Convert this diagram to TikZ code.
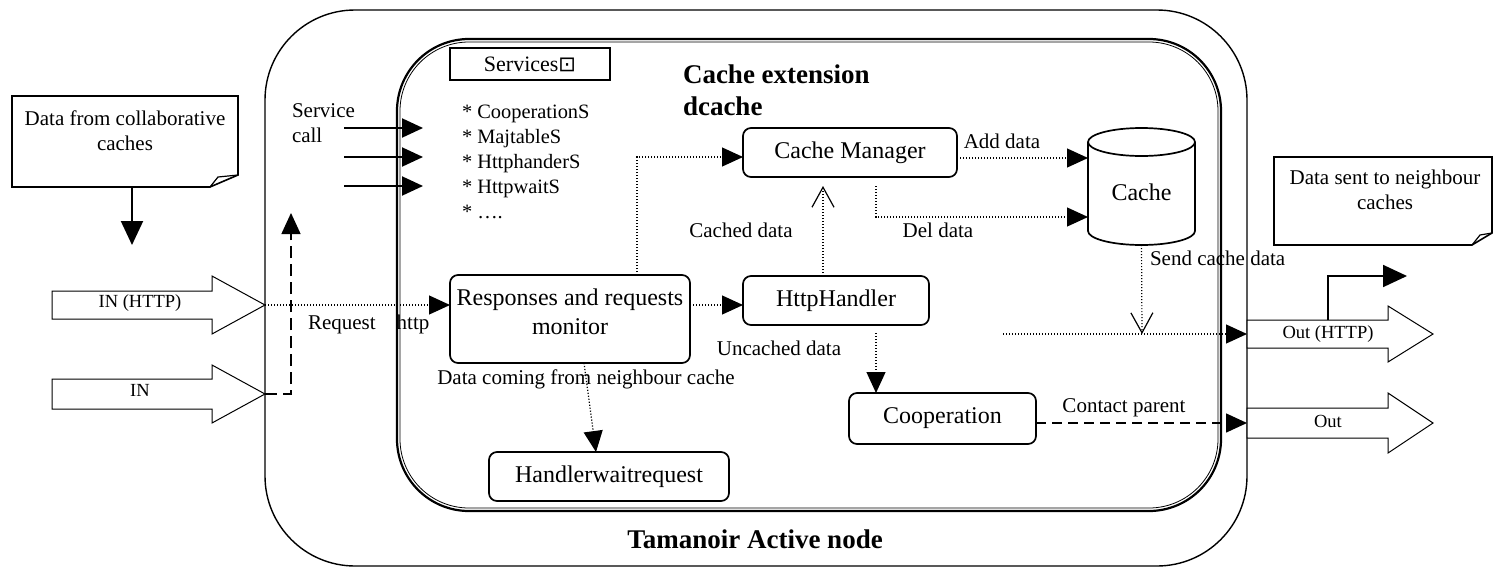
\documentclass[tikz,border=0pt]{standalone}
\usepackage{fontspec}
\setmainfont{Liberation Serif}
\newfontfamily\symfont{DejaVu Sans}
\usetikzlibrary{arrows.meta}

\begin{document}
\begin{tikzpicture}[x=0.5pt,y=-0.5pt,
  every node/.style={inner sep=0pt, outer sep=0pt},
  box/.style={draw, line width=0.85pt, rounded corners=4pt, align=center,
    font=\fontsize{12}{14.5}\selectfont},
  lbl/.style={font=\fontsize{10.5}{12.5}\selectfont},
  small/.style={font=\fontsize{9.25}{11}\selectfont},
  heading/.style={font=\fontsize{13.5}{15}\selectfont\bfseries},
  dots/.style={line width=0.6pt, dash pattern=on 0.6pt off 0.9pt},
  dashline/.style={line width=0.8pt, dash pattern=on 5pt off 3pt},
  longdash/.style={line width=0.7pt, dash pattern=on 6pt off 3pt},
  filltip/.style={-{Triangle[length=10.5pt,width=9.5pt]}},
  bigtip/.style={-{Triangle[length=12pt,width=11pt]}},
  opentip/.style={-{Straight Barb[length=10pt,width=11pt,line width=0.6pt]}},
  blockarrow/.style={draw, line width=0.5pt, fill=white},
  notebox/.style={draw, line width=0.8pt, fill=white},
  cyl/.style={draw, line width=0.85pt}]

\useasboundingbox (0,0) rectangle (1494,568);

% node frame and cache extension frame (heavy outer line, thin inner line)
\draw[line width=0.7pt, rounded corners=45pt] (265,10) rectangle (1247,566);
\draw[line width=1.1pt, rounded corners=36pt] (397,39) rectangle (1221,511);
\draw[line width=0.4pt, rounded corners=34.5pt] (400,42) rectangle (1218,508);
\node[heading, anchor=base] (title) at (755,548) {Tamanoir Active node};
\node[heading, anchor=base west] (ext1) at (683,83) {Cache extension};
\node[heading, anchor=base west] (ext2) at (683,115) {dcache};

% services list
\node[draw, line width=0.6pt, minimum width=80pt, minimum height=16pt,
  font=\fontsize{11}{12}\selectfont] (serv) at (530,64)
  {Services{\symfont\fontsize{10.5}{10}\selectfont ⊡}};
\foreach \t [count=\i] in {* CooperationS, * MajtableS, * HttphanderS, * HttpwaitS, * ….}
  \node[font=\fontsize{10.2}{12}\selectfont, anchor=base west] (svc\i) at (462,93.5+25*\i) {\t};

% service calls
\node[lbl, anchor=base west] (scall1) at (292,117) {Service};
\node[lbl, anchor=base west] (scall2) at (292,142) {call};
\foreach \y [count=\i] in {128,157,186} {
  \coordinate (sca\i) at (344,\y);
  \coordinate (scb\i) at (423,\y);
  \draw[line width=1pt, filltip] (sca\i) -- (scb\i);
}

% components
\node[box, minimum width=107pt, minimum height=24.5pt] (cm) at (850,152.5) {Cache Manager};
\node[box, minimum width=93pt, minimum height=24.5pt] (hh) at (836,300.5) {HttpHandler};
\node[box, minimum width=120pt, minimum height=44pt] (resp) at (570,319) {};
\node[font=\fontsize{12}{14.5}\selectfont, align=center] (resptext) at (570,312)
  {Responses and requests\\monitor};
\node[box, minimum width=120pt, minimum height=24.5pt] (hw) at (609,476.5) {Handlerwaitrequest};
\node[box, minimum width=93.5pt, minimum height=25.5pt] (coop) at (942.5,418.5) {Cooperation};

% cache store (cylinder)
\node[font=\fontsize{12}{14.5}\selectfont, minimum width=53.5pt, minimum height=53pt]
  (cache) at (1141.5,192) {Cache};
\draw[cyl] (1141.5,142) ellipse [x radius=26.75pt, y radius=7pt];
\draw[cyl] (1088,142) -- (1088,231)
  arc[start angle=180, end angle=360, x radius=26.75pt, y radius=7pt] -- (1195,142);

% notes with folded corner
\draw[notebox] (12,96) -- (238,96) -- (238,175) -- (210,187) -- (12,187) -- cycle;
\draw[line width=0.6pt] (210,187) -- (218,177) -- (238,175);
\node[lbl, align=center] (note1) at (125,130.5) {Data from collaborative\\caches};
\coordinate (note1b) at (132,187);
\coordinate (note1t) at (132,245);
\draw[line width=1pt, bigtip] (note1b) -- (note1t);

\draw[notebox] (1274,157) -- (1492,157) -- (1492,233) -- (1472,245) -- (1274,245) -- cycle;
\draw[line width=0.6pt] (1472,245) -- (1480,235) -- (1492,233);
\node[lbl, align=center] (note2) at (1385,190) {Data sent to neighbour\\caches};

% input block arrows
\draw[blockarrow] (52,291) -- (212,291) -- (212,276) -- (265,305) -- (212,334)
  -- (212,319) -- (52,319) -- cycle;
\node[small, anchor=base] (inhttptext) at (140,307) {IN (HTTP)};
\coordinate (inhttp) at (265,305);
\draw[blockarrow] (52,379) -- (212,379) -- (212,365) -- (265,394) -- (212,423)
  -- (212,409) -- (52,409) -- cycle;
\node[small, anchor=base] (intext) at (140,396) {IN};
\coordinate (inplain) at (265,394);

% output block arrows
\draw[blockarrow] (1247,320) -- (1388,320) -- (1388,306) -- (1433,334) -- (1388,362)
  -- (1388,348) -- (1247,348) -- cycle;
\node[small, anchor=base] (outhttptext) at (1328,338) {Out (HTTP)};
\coordinate (outhttp) at (1247,334);
\draw[blockarrow] (1247,408) -- (1388,408) -- (1388,393) -- (1433,423) -- (1388,453)
  -- (1388,438) -- (1247,438) -- cycle;
\node[small, anchor=base] (outtext) at (1328,427) {Out};
\coordinate (outplain) at (1247,423);

% elbow arrow out of the HTTP output
\coordinate (elbs) at (1328,320);
\coordinate (elbt) at (1407,276);
\draw[line width=0.9pt, bigtip] (elbs) |- (elbt);

% request flow
\draw[dots, filltip] (inhttp) -- (resp.west |- inhttp);
\node[lbl, anchor=base west] (reqlbl) at (308,329) {Request\quad http};
\coordinate (upbend) at (291,394);
\coordinate (uptip) at (291,213);
\draw[longdash, filltip] (inplain) -- (upbend) -- (uptip);

\coordinate (mbend) at (637,157);
\draw[dots, filltip] (mbend |- resp.north) -- (mbend) -- (cm.west |- mbend);
\draw[dots, filltip] (resp.east |- inhttp) -- (hh.west |- inhttp);

\coordinate (cachedtip) at (823,186);
\draw[dots, opentip] (cachedtip |- hh.north) -- (cachedtip);
\node[lbl, anchor=base] (cachedlbl) at (741,237) {Cached data};

\coordinate (addy) at (960,158);
\draw[dots, filltip] (cm.east |- addy) -- (cache.west |- addy);
\node[lbl, anchor=base] (addlbl) at (1002,148) {Add data};

\coordinate (delb) at (876,217);
\draw[dots, filltip, shorten <=4.5pt] (delb |- cm.south) -- (delb) -- (cache.west |- delb);
\node[lbl, anchor=base] (dellbl) at (938,237) {Del data};

\coordinate (coopin) at (876,393);
\draw[dots, filltip, shorten <=4pt] (coopin |- hh.south) -- (coopin |- coop.north);
\node[lbl, anchor=base] (uncachedlbl) at (779,355) {Uncached data};

\coordinate (rsout) at (584,363);
\coordinate (hwin) at (596,452);
\draw[dots, filltip] (rsout |- resp.south) -- (hwin |- hw.north);
\node[lbl, anchor=base] (neighlbl) at (586,384) {Data coming from neighbour cache};

\coordinate (sendtip) at (1142,334);
\draw[dots, opentip] (cache.south) -- (sendtip);
\node[lbl, anchor=base west] (sendlbl) at (1150,265) {Send cache data};
\coordinate (hstart) at (1003,334);
\draw[dots, filltip] (hstart) -- (outhttp);

\draw[dashline, filltip] (coop.east |- outplain) -- (outplain);
\node[lbl, anchor=base] (contactlbl) at (1124,412) {Contact parent};

\end{tikzpicture}
\end{document}
